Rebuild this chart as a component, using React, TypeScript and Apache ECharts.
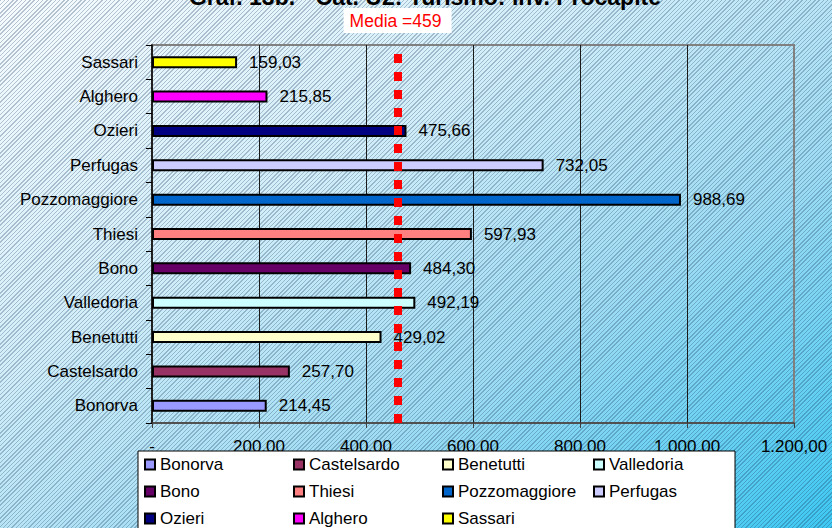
import React, { useEffect, useRef } from "react";
import * as echarts from "echarts";

const categories = ["Bonorva", "Castelsardo", "Benetutti", "Valledoria", "Bono", "Thiesi", "Pozzomaggiore", "Perfugas", "Ozieri", "Alghero", "Sassari"];
const values = [214.45, 257.7, 429.02, 492.19, 484.3, 597.93, 988.69, 732.05, 475.66, 215.85, 159.03];
const colors = ["#9999ff", "#993366", "#ffffcc", "#ccffff", "#660066", "#ff8080", "#0066cc", "#ccccff", "#000080", "#ff00ff", "#ffff00"];
const mediaValue = 459;
const xMin = 0;
const xMax = 1200;
const xInterval = 200;
const titleText = "Graf. 13b. - Cat. U2: Turismo: inv. Procapite";
const legendColumns = [
  ["Bonorva", "Bono", "Ozieri"],
  ["Castelsardo", "Thiesi", "Alghero"],
  ["Benetutti", "Pozzomaggiore", "Sassari"],
  ["Valledoria", "Perfugas"],
];

const FONT = "'Liberation Sans', Arial, sans-serif";

function fmt(v: number): string {
  if (v === 0) return "-";
  const [i, d] = v.toFixed(2).split(".");
  return i.replace(/\B(?=(\d{3})+(?!\d))/g, ".") + "," + d;
}

export default function App() {
  const ref = useRef<HTMLDivElement>(null);
  useEffect(() => {
    if (!ref.current) return;
    const chart = echarts.init(ref.current, null, { renderer: "svg" });
    const legendLefts = [144, 293, 442, 593];
    const barSeries: any[] = categories.map((name, i) => ({
      type: "bar",
      name,
      stack: "total",
      barWidth: 12,
      data: categories.map((_, j) => (j === i ? values[i] : "-")),
      itemStyle: { color: colors[i], borderColor: "#000", borderWidth: 2 },
      label: {
        show: true,
        position: "right",
        distance: 12,
        formatter: (p: any) => fmt(p.value),
        color: "#000",
        fontSize: 17,
        fontFamily: FONT,
      },
    }));
    barSeries.push({
      type: "line",
      name: "Media",
      data: categories.map(() => "-"),
      z: 10,
      markLine: {
        silent: true,
        symbol: ["none", "none"],
        data: [{ xAxis: mediaValue }],
        lineStyle: { color: "#ff0000", width: 8, type: [9, 9], opacity: 1 },
        label: {
          show: true,
          position: "end",
          distance: 12,
          formatter: "Media =" + mediaValue,
          color: "#ff0000",
          fontSize: 17.5,
          fontFamily: FONT,
          backgroundColor: "#ffffff",
          padding: [4, 10, 3, 6],
        },
      },
    });
    chart.setOption({
      animation: false,
      backgroundColor: "transparent",
      title: {
        text: titleText,
        left: 425,
        textAlign: "center",
        top: -15,
        padding: 0,
        textStyle: { fontSize: 23, fontWeight: "bold", color: "#000", fontFamily: FONT },
      },
      grid: {
        left: 152,
        right: 38,
        top: 45,
        bottom: 105,
        show: true,
        borderColor: "#808080",
        borderWidth: 2,
        backgroundColor: "transparent",
      },
      xAxis: {
        type: "value",
        min: xMin,
        max: xMax,
        interval: xInterval,
        axisLine: { show: true, lineStyle: { color: "#404040", width: 1.5 } },
        axisTick: { show: true, length: 5, lineStyle: { color: "#404040" } },
        axisLabel: { formatter: (v: number) => fmt(v), color: "#000", fontSize: 17, margin: 15, fontFamily: FONT },
        splitLine: { show: true, showMinLine: false, showMaxLine: false, lineStyle: { color: "#1a1a1a", width: 1 } },
      },
      yAxis: {
        type: "category",
        data: categories,
        axisLine: { show: true, lineStyle: { color: "#000", width: 1.5 } },
        axisTick: { show: true, length: 6, lineStyle: { color: "#000" } },
        axisLabel: { color: "#000", fontSize: 17, margin: 14, fontFamily: FONT },
        splitLine: { show: false },
      },
      legend: legendColumns.map((col, k) => ({
        orient: "vertical",
        left: legendLefts[k],
        top: 456,
        padding: 0,
        itemGap: 10,
        itemWidth: 10,
        itemHeight: 10,
        icon: "rect",
        z: 10,
        selectedMode: false,
        data: col,
        itemStyle: { borderColor: "#000", borderWidth: 2 },
        textStyle: { color: "#000", fontSize: 17, fontFamily: FONT },
      })),
      graphic: [
        {
          type: "rect",
          z: 5,
          zlevel: 0,
          shape: { x: 138, y: 451, width: 597, height: 100 },
          style: { fill: "#ffffff", stroke: "#000", lineWidth: 1 },
          silent: true,
        },
      ],
      series: barSeries,
    });
    return () => chart.dispose();
  }, []);
  return (
    <div
      ref={ref}
      style={{
        position: "absolute",
        left: 0,
        top: 0,
        width: 832,
        height: 528,
        background:
          "repeating-linear-gradient(135deg, rgba(20,50,90,0.28) 0px, rgba(20,50,90,0.28) 1px, rgba(255,255,255,0) 1px, rgba(255,255,255,0) 3px), linear-gradient(to bottom right, #f6fbfe 0%, #d2eef9 35%, #9edcf3 65%, #3ec8f2 100%)",
      }}
    />
  );
}
